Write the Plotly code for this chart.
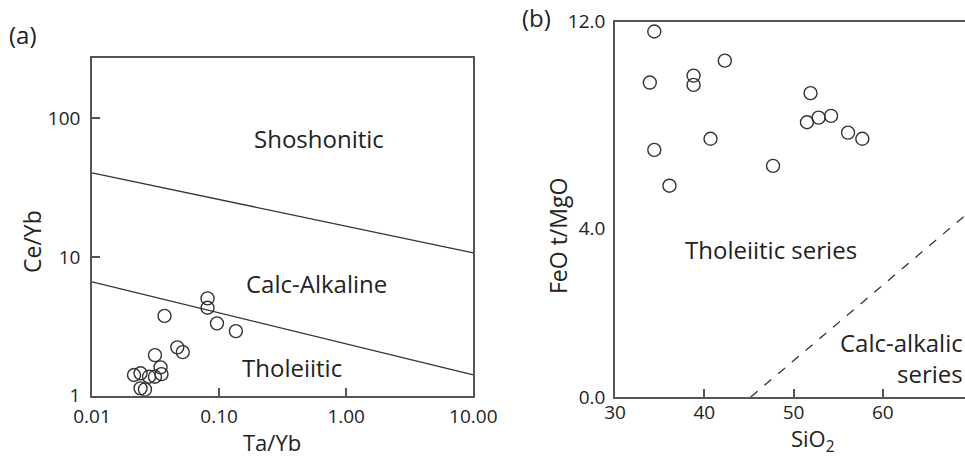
import plotly.graph_objects as go

# ---------------- data ----------------
# Panel (a): Ta/Yb vs Ce/Yb
ta_yb = [0.0214, 0.0241, 0.0241, 0.0261, 0.0281, 0.0313, 0.0313, 0.0346,
         0.0352, 0.0372, 0.0469, 0.0518, 0.0811, 0.0811, 0.0962, 0.1355]
ce_yb = [1.41, 1.45, 1.13, 1.11, 1.37, 1.96, 1.37, 1.60,
         1.43, 3.76, 2.23, 2.06, 5.02, 4.30, 3.32, 2.92]

upper_x = [0.01, 10.0]
upper_y = [40.2, 10.7]
lower_x = [0.01, 10.0]
lower_y = [6.61, 1.41]

# Panel (b): SiO2 vs FeO t/MgO
sio2 = [34.4, 42.3, 33.9, 38.8, 38.8, 40.7, 34.4, 47.7,
        36.1, 51.9, 51.5, 52.8, 54.2, 56.1, 57.7]
feo_mgo = [11.62, 10.49, 9.64, 9.91, 9.55, 7.46, 7.03, 6.41,
           5.64, 9.23, 8.10, 8.28, 8.35, 7.70, 7.46]

divide_x = [45.2, 70.0]
divide_y = [0.0, 4.72]

b_ticks = [0.0, 4.0, 12.0]
b_ticktext = ["0.0", "4.0", "12.0"]

# piecewise y-scale of panel (b) (axis is compressed above 4.0)
K = 0.6104
def fe_scale(v):
    return v if v <= 4 else 4 + (v - 4) * K

W, H = 965, 457
def px(x):
    return x / W
def py(y):
    return 1 - y / H

FONT = "Open Sans"
TXT = "#222222"
AX = "#555555"
PT = "#333333"

fig = go.Figure()

# panel (a)
fig.add_trace(go.Scatter(x=upper_x, y=upper_y, mode="lines",
                         line=dict(color=PT, width=1.3), xaxis="x", yaxis="y",
                         showlegend=False, hoverinfo="skip"))
fig.add_trace(go.Scatter(x=lower_x, y=lower_y, mode="lines",
                         line=dict(color=PT, width=1.3), xaxis="x", yaxis="y",
                         showlegend=False, hoverinfo="skip"))
fig.add_trace(go.Scatter(x=ta_yb, y=ce_yb, mode="markers",
                         marker=dict(symbol="circle-open", size=13,
                                     line=dict(color=PT, width=1.4), color=PT),
                         xaxis="x", yaxis="y", showlegend=False))

# panel (b)
fig.add_trace(go.Scatter(x=divide_x, y=[fe_scale(v) for v in divide_y], mode="lines",
                         line=dict(color=PT, width=1.3, dash="9px,9px"),
                         xaxis="x2", yaxis="y2", showlegend=False, hoverinfo="skip"))
fig.add_trace(go.Scatter(x=sio2, y=[fe_scale(v) for v in feo_mgo], mode="markers",
                         marker=dict(symbol="circle-open", size=13,
                                     line=dict(color=PT, width=1.4), color=PT),
                         xaxis="x2", yaxis="y2", showlegend=False))

tickfont = dict(family=FONT, size=19, color=TXT)

fig.update_layout(
    width=W, height=H,
    margin=dict(l=0, r=0, t=0, b=0, autoexpand=False),
    paper_bgcolor="white", plot_bgcolor="white",
    xaxis=dict(type="log", domain=[px(92), px(473.3)], range=[-2, 1],
               tickvals=[0.01, 0.1, 1, 10], ticktext=["0.01", "0.10", "1.00", "10.00"],
               ticks="inside", ticklen=8, tickwidth=2, tickcolor=AX,
               showline=True, linecolor=AX, linewidth=1.5, mirror=True,
               showgrid=False, zeroline=False, tickfont=tickfont,
               ticklabelstandoff=3, anchor="y", automargin=False),
    yaxis=dict(type="log", domain=[py(395.7), py(58.3)], range=[0, 2.43],
               tickvals=[1, 10, 100], ticktext=["1", "10", "100"],
               ticks="inside", ticklen=8, tickwidth=2, tickcolor=AX,
               showline=True, linecolor=AX, linewidth=1.5, mirror=True,
               showgrid=False, zeroline=False, tickfont=tickfont,
               ticklabelstandoff=6, anchor="x", automargin=False),
    xaxis2=dict(domain=[px(615), 1.0], range=[30, 69.2],
                tickvals=[30, 40, 50, 60], ticktext=["30", "40", "50", "60"],
                ticks="inside", ticklen=8, tickwidth=1.5, tickcolor=AX,
                showline=True, linecolor=AX, linewidth=1.5, mirror=True,
                showgrid=False, zeroline=False, tickfont=tickfont,
                ticklabelstandoff=-3, anchor="y2", automargin=False),
    yaxis2=dict(domain=[py(397), py(21.7)], range=[0, fe_scale(12.0)],
                tickvals=[fe_scale(v) for v in b_ticks], ticktext=b_ticktext,
                ticks="", showline=True, linecolor=AX, linewidth=1.5, mirror=False,
                showgrid=False, zeroline=False, tickfont=tickfont,
                ticklabelstandoff=4, anchor="x2", automargin=False),
)

def ann(text, x, y, size=24, xanchor="center", align="center", angle=0):
    fig.add_annotation(text=text, x=px(x), y=py(y), xref="paper", yref="paper",
                       showarrow=False, xanchor=xanchor, yanchor="middle", align=align,
                       textangle=angle, borderpad=0,
                       font=dict(family=FONT, size=size, color=TXT))

ann("(a)", 23, 35, size=24)
ann("(b)", 536, 18, size=24)
ann("Shoshonitic", 319, 138)
ann("Calc-Alkaline", 316, 283)
ann("Tholeiitic", 292, 367)
ann("Ta/Yb", 272, 442, size=22)
ann("Ce/Yb", 32, 242, size=23, angle=-90)
ann("Tholeiitic series", 771, 250)
ann("Calc-alkalic<br>series", 964, 358, xanchor="right", align="right")
ann("SiO<sub>2</sub>", 813, 440, size=22)
ann("FeO t/MgO", 558, 236, size=23, angle=-90)

fig.write_html("out.html")
